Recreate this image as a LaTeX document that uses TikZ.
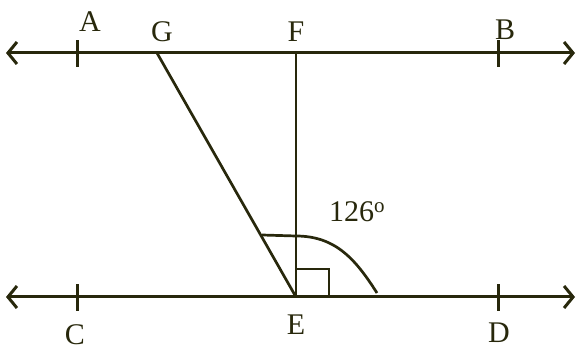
\documentclass[tikz,border=0pt]{standalone}
\usepackage{fontspec}
\setmainfont{Liberation Serif}
\usetikzlibrary{arrows.meta}
\definecolor{ink}{RGB}{40,40,12}
\tikzset{
  geo/.style={draw=ink, line width=3pt},
  arr/.style={geo, {Straight Barb[length=9pt,width=22pt,line width=3pt]}-{Straight Barb[length=9pt,width=22pt,line width=3pt]}},
  thin/.style={draw=ink, line width=2.7pt},
  lab/.style={text=ink, inner sep=0pt, font=\fontsize{30}{34}\selectfont}
}
\begin{document}
\begin{tikzpicture}[x=1pt,y=1pt]
\useasboundingbox (0,0) rectangle (578,350);
\coordinate (TL) at (6,297);
\coordinate (TR) at (575,297);
\coordinate (BL) at (6,53);
\coordinate (BR) at (575,53);
\coordinate (Gp) at (157,297);
\coordinate (Fp) at (296,297);
\coordinate (Ep) at (296,53);
\coordinate (Ap) at (77,297);
\coordinate (Bp) at (498,297);
\coordinate (Cp) at (77,53);
\coordinate (Dp) at (498,53);
\draw[arr] (TL) -- (TR);
\draw[arr] (BL) -- (BR);
% ticks
\foreach \p in {Ap,Bp,Cp,Dp}
  \draw[geo] ([yshift=-14pt]\p) -- ([yshift=13pt]\p);
% segments
\draw[thin] (Gp) -- (Ep);
\draw[thin] (Fp) -- (Ep);
% right angle
\draw[thin] (Ep) rectangle (329,81);
% angle mark
\coordinate (arcL) at (262,115);
\coordinate (arcR) at (377,57);
\draw[thin] (arcL) -- (296,114) .. controls (336,114) and (356,90) .. (arcR);
% labels
\node[lab] (lA) at (90,328) {A};
\node[lab] (lG) at (162,318) {G};
\node[lab] (lF) at (296,318) {F};
\node[lab] (lB) at (505,320) {B};
\node[lab] (lC) at (75,15) {C};
\node[lab] (lE) at (296,25) {E};
\node[lab] (lD) at (499,17) {D};
\node[lab] (l126) at (357,138) {126\textsuperscript{o}};
\end{tikzpicture}
\end{document}
